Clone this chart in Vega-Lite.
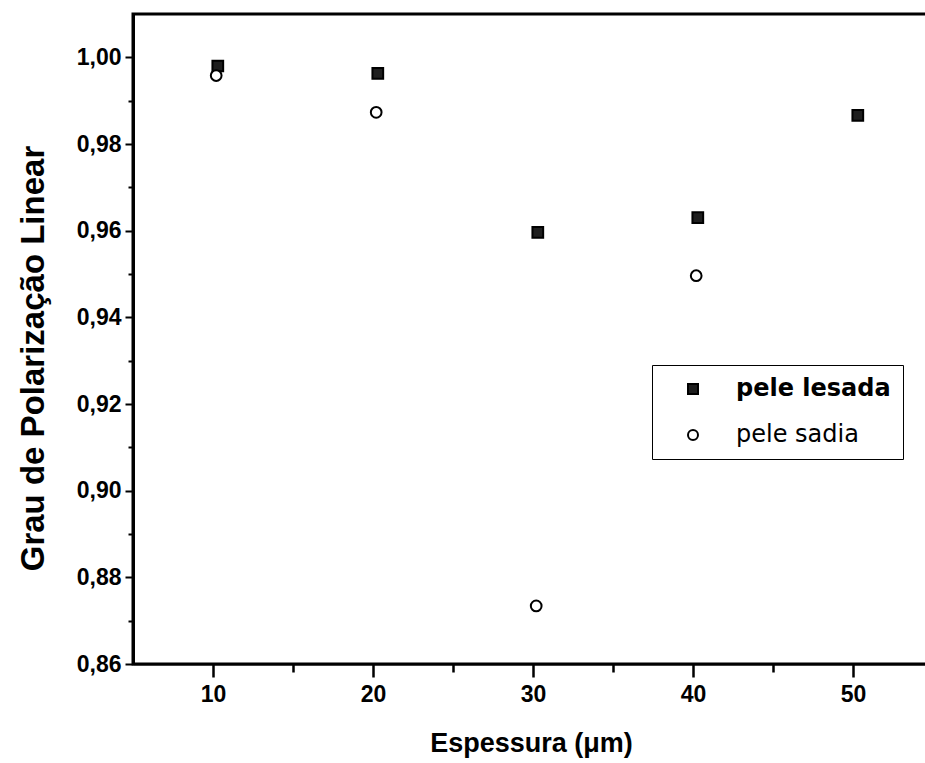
{
  "$schema": "https://vega.github.io/schema/vega-lite/v6.json",
  "autosize": "none",
  "padding": {"left": 133, "top": 14, "right": 0, "bottom": 99},
  "width": 796,
  "height": 650,
  "background": "white",
  "config": {
    "view": {"stroke": "black", "strokeWidth": 3},
    "axis": {
      "grid": false,
      "domainColor": "black",
      "tickColor": "black",
      "labelColor": "black",
      "titleColor": "black",
      "labelFont": "Liberation Sans",
      "labelFontSize": 23,
      "labelFontWeight": "bold",
      "titleFont": "Liberation Sans",
      "titleFontWeight": "bold",
      "titleFontSize": 27
    },
    "legend": {
      "orient": "none",
      "legendX": 519,
      "legendY": 351,
      "direction": "vertical",
      "strokeColor": "black",
      "fillColor": "white",
      "padding": 12,
      "symbolOffset": 17,
      "symbolSize": 100,
      "symbolStrokeWidth": 2,
      "labelOffset": 31,
      "labelLimit": 500,
      "labelFont": "DejaVu Sans",
      "labelFontSize": 24,
      "labelColor": "black",
      "rowPadding": 22
    }
  },
  "data": {
    "values": [
      {"espessura": 10.3, "grau": 0.998, "amostra": "pele lesada"},
      {"espessura": 20.3, "grau": 0.9963, "amostra": "pele lesada"},
      {"espessura": 30.3, "grau": 0.9596, "amostra": "pele lesada"},
      {"espessura": 40.3, "grau": 0.963, "amostra": "pele lesada"},
      {"espessura": 50.3, "grau": 0.9866, "amostra": "pele lesada"},
      {"espessura": 10.2, "grau": 0.9958, "amostra": "pele sadia"},
      {"espessura": 20.2, "grau": 0.9873, "amostra": "pele sadia"},
      {"espessura": 30.2, "grau": 0.8734, "amostra": "pele sadia"},
      {"espessura": 40.2, "grau": 0.9496, "amostra": "pele sadia"}
    ]
  },
  "mark": {"type": "point", "filled": true, "strokeWidth": 2, "size": 115, "opacity": 1},
  "encoding": {
    "x": {
      "field": "espessura",
      "type": "quantitative",
      "title": "Espessura (μm)",
      "scale": {"domain": [5, 54.75], "nice": false, "zero": false},
      "axis": {
        "orient": "bottom",
        "values": [10, 15, 20, 25, 30, 35, 40, 45, 50],
        "labelExpr": "datum.value % 10 == 0 ? datum.label : ''",
        "domainWidth": 2,
        "tickWidth": 2.5,
        "tickSize": {"condition": {"test": "datum.value % 10 == 0", "value": 13}, "value": 8},
        "labelPadding": 6,
        "titlePadding": 24
      }
    },
    "y": {
      "field": "grau",
      "type": "quantitative",
      "title": "Grau de Polarização Linear",
      "scale": {"domain": [0.86, 1.01], "nice": false, "zero": false},
      "axis": {
        "orient": "left",
        "values": [0.86, 0.87, 0.88, 0.89, 0.9, 0.91, 0.92, 0.93, 0.94, 0.95, 0.96, 0.97, 0.98, 0.99, 1.0],
        "format": ".2f",
        "labelExpr": "round(datum.value * 100) % 2 == 0 ? replace(datum.label, '.', ',') : ''",
        "domainWidth": 3,
        "tickWidth": 2,
        "tickSize": {"condition": {"test": "round(datum.value * 100) % 2 == 0", "value": 8}, "value": 5},
        "labelPadding": 4,
        "titleFontSize": 33,
        "titleY": 344,
        "titlePadding": 26
      }
    },
    "shape": {
      "field": "amostra",
      "type": "nominal",
      "title": null,
      "scale": {"domain": ["pele lesada", "pele sadia"], "range": ["square", "circle"]},
      "legend": {
        "title": null,
        "labelFontWeight": {"expr": "datum.value == 'pele lesada' ? 'bold' : 'normal'"},
        "labelExpr": "datum.label + '\u00a0\u00a0\u00a0\u00a0\u00a0\u00a0'"
      }
    },
    "fill": {
      "field": "amostra",
      "type": "nominal",
      "title": null,
      "scale": {"domain": ["pele lesada", "pele sadia"], "range": ["#1e1e1e", "white"]},
      "legend": {
        "title": null,
        "labelFontWeight": {"expr": "datum.value == 'pele lesada' ? 'bold' : 'normal'"},
        "labelExpr": "datum.label + '\u00a0\u00a0\u00a0\u00a0\u00a0\u00a0'"
      }
    },
    "stroke": {
      "field": "amostra",
      "type": "nominal",
      "title": null,
      "scale": {"domain": ["pele lesada", "pele sadia"], "range": ["black", "black"]},
      "legend": {
        "title": null,
        "labelFontWeight": {"expr": "datum.value == 'pele lesada' ? 'bold' : 'normal'"},
        "labelExpr": "datum.label + '\u00a0\u00a0\u00a0\u00a0\u00a0\u00a0'"
      }
    }
  }
}
